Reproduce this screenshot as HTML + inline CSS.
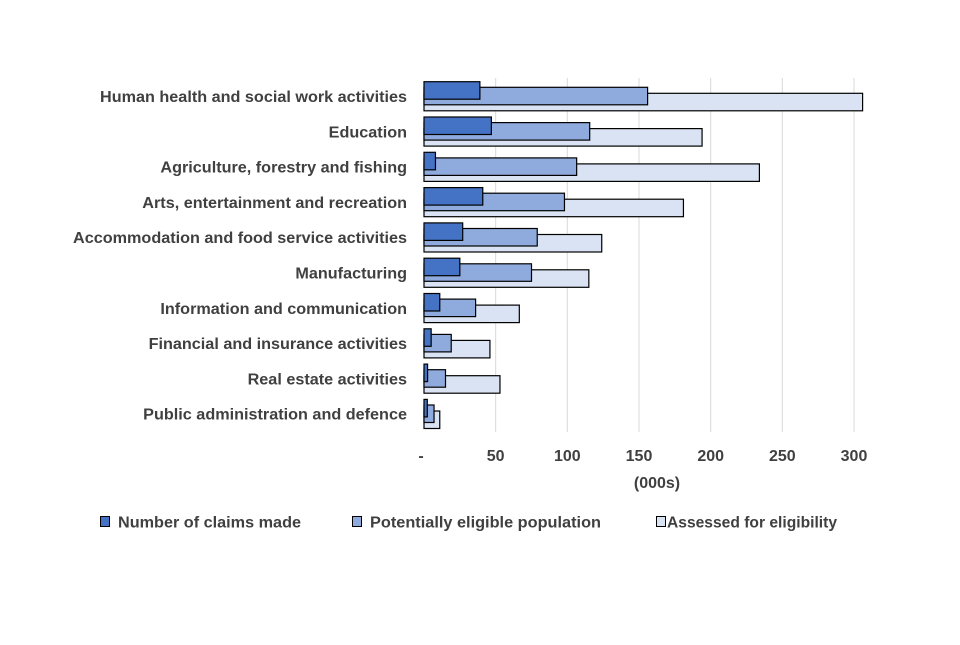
<!DOCTYPE html>
<html><head><meta charset="utf-8"><style>
body{margin:0;background:#fff;}
svg text{font-family:"Liberation Sans",sans-serif;font-weight:bold;fill:#404040;}
</style></head><body>
<svg id="chart" width="960" height="640">
<g id="grid"></g>
<g id="bars"></g>
<g id="ylabels"></g>
<g id="xticks"></g>
<text x="657" y="488" font-size="16" text-anchor="middle">(000s)</text>
<g>
<g><rect x="100.5" y="516.5" width="9" height="10" fill="#4472c4" stroke="#000"/><text x="118" y="527.5" font-size="16" textLength="183" lengthAdjust="spacingAndGlyphs">Number of claims made</text></g>
<g><rect x="352.5" y="516.5" width="9" height="10" fill="#8faadc" stroke="#000"/><text x="370" y="527.5" font-size="16" textLength="231" lengthAdjust="spacingAndGlyphs">Potentially eligible population</text></g>
<g><rect x="656.5" y="516.5" width="9" height="10" fill="#dae3f3" stroke="#000"/><text x="667" y="527.5" font-size="16" textLength="170" lengthAdjust="spacingAndGlyphs">Assessed for eligibility</text></g>
</g>
</svg>
<script>
const categories=["Human health and social work activities","Education","Agriculture, forestry and fishing","Arts, entertainment and recreation","Accommodation and food service activities","Manufacturing","Information and communication","Financial and insurance activities","Real estate activities","Public administration and defence"];
const claims=[39,47,8,41,27,25,11,5,2.5,2.3];
const eligible=[156,115.6,106.5,98,79,75,36,19,15,7];
const assessed=[306,194,234,181,124,115,66.5,46,53,11];
const ticks=[0,50,100,150,200,250,300];
const tickLabels=["-","50","100","150","200","250","300"];
const ns="http://www.w3.org/2000/svg";
const x0=424,xs=430/300,top0=79,band=35.3;
const X=v=>x0+v*xs;
const Y=i=>top0+i*band;
function mk(t,a,p){const e=document.createElementNS(ns,t);for(const k in a)e.setAttribute(k,a[k]);p.appendChild(e);return e;}
const grid=document.getElementById('grid'),bars=document.getElementById('bars'),yl=document.getElementById('ylabels'),xt=document.getElementById('xticks');
const cv=document.createElement('canvas').getContext('2d');
cv.font='bold 15.4px "Liberation Sans", sans-serif';
ticks.forEach((t,i)=>{
 if(i>0){const l=mk('line',{x1:X(t),x2:X(t),y1:78,y2:432,stroke:'#d9d9d9','stroke-width':1},grid);
 
 }
 const tx=mk('text',{x:i==0?X(t)-3:X(t),y:461,'font-size':16,'text-anchor':'middle'},xt);tx.textContent=tickLabels[i];
 
 
});
const series=[[assessed,'#dae3f3',14.3],[eligible,'#8faadc',8.3],[claims,'#4472c4',2.7]];
categories.forEach((c,i)=>{
 series.forEach(([arr,col,off])=>{
  const r=mk('rect',{x:x0,y:Y(i)+off,width:Math.max(0,X(arr[i])-x0),height:17.5,fill:col,stroke:'#000','stroke-width':1.2},bars);
  
  
 });
 const w=cv.measureText(c).width*307/cv.measureText(categories[0]).width;
 const t=mk('text',{x:407,y:Y(i)+23,'font-size':16,'text-anchor':'end',textLength:w.toFixed(1),lengthAdjust:'spacingAndGlyphs'},yl);t.textContent=c;
 
 
});
</script>
</body></html>
